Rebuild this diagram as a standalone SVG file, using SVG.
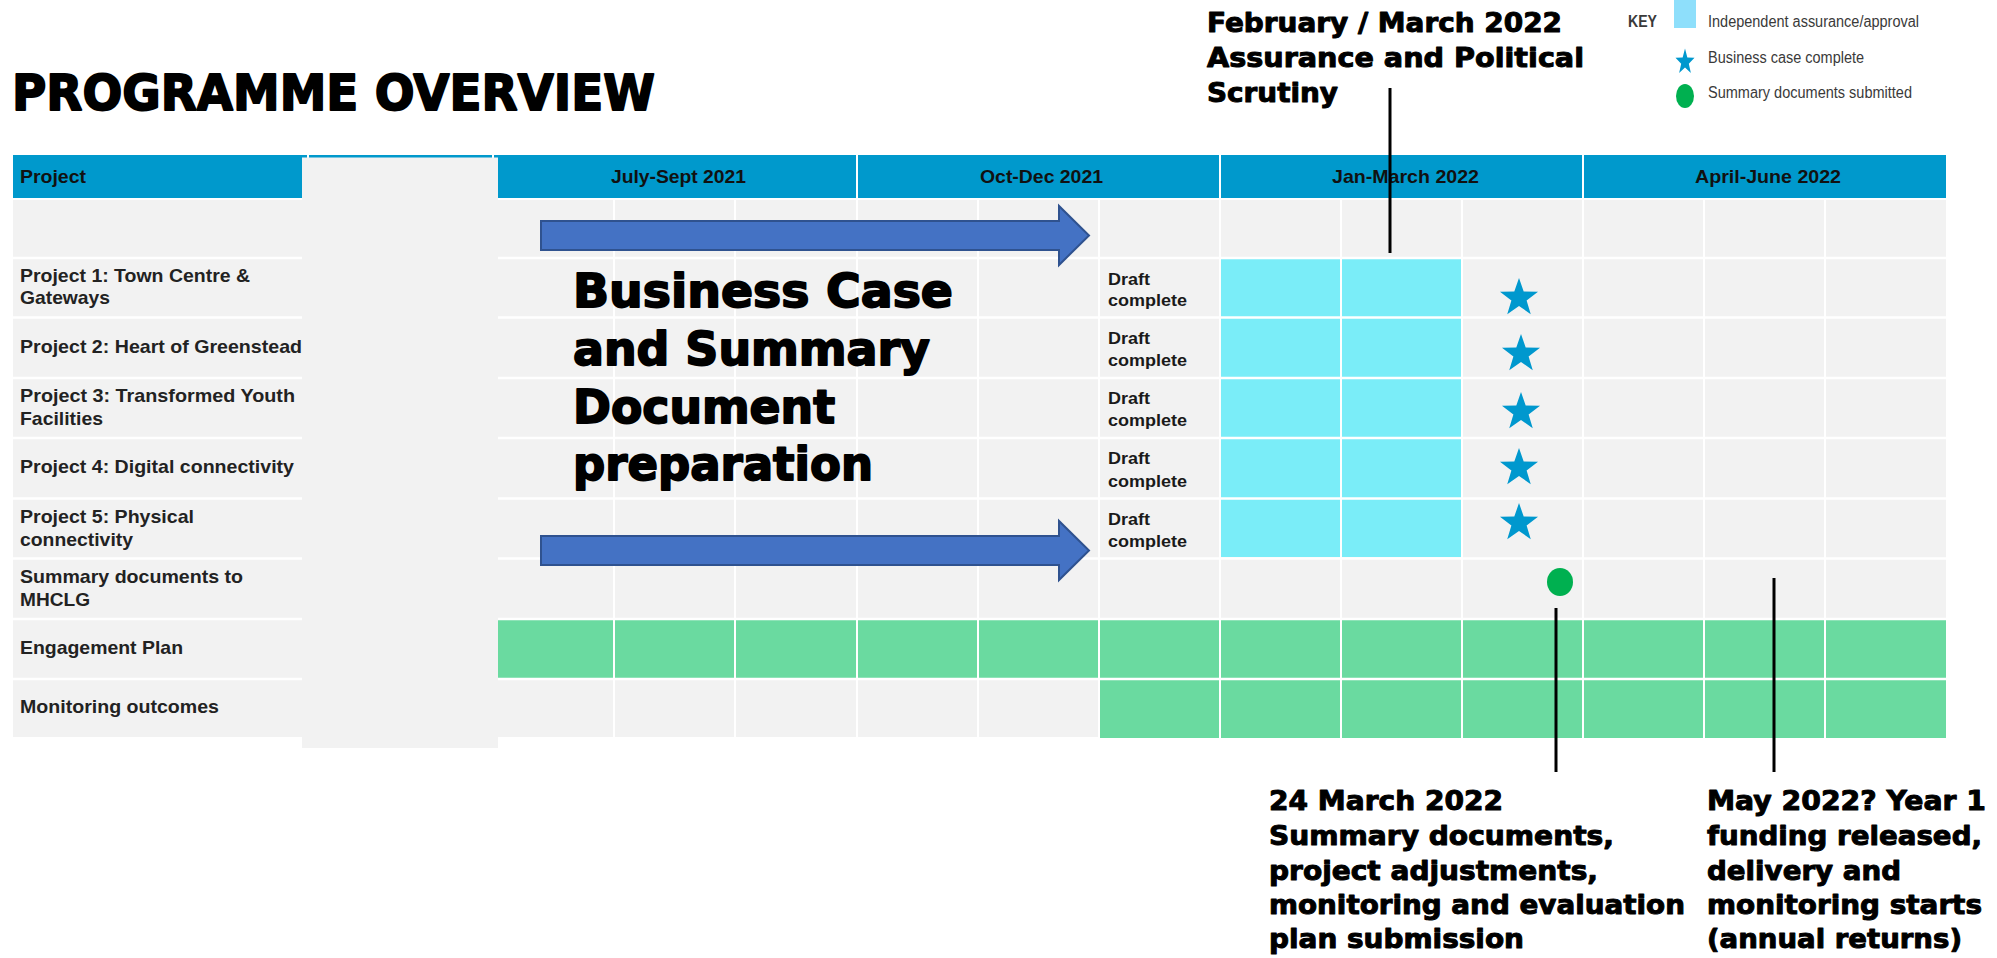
<svg xmlns="http://www.w3.org/2000/svg" width="1997" height="958" viewBox="0 0 1997 958">
<defs>
<style>
.hdr{font-family:"Liberation Sans",Arial,sans-serif;font-weight:bold;font-size:19px;fill:#111}
.lbl{font-family:"Liberation Sans",Arial,sans-serif;font-weight:bold;font-size:18.5px;fill:#222}
.drf{font-family:"Liberation Sans",Arial,sans-serif;font-weight:bold;font-size:17px;fill:#1a1a1a}
.hv{font-family:"DejaVu Sans","Liberation Sans",sans-serif;font-weight:bold;fill:#000;stroke:#000;stroke-width:1;stroke-linejoin:round}
.hv2{stroke-width:1.8}
.key{font-family:"Liberation Sans",Arial,sans-serif;font-size:16px;fill:#3a3a3a}
.grid{stroke:#fff;stroke-width:2;fill:none}
.hgrid{stroke:#fff;stroke-width:2.5;fill:none}
.cy{fill:#7AEDF8}
.gr{fill:#6ADAA0}
.star{fill:#0098CE}
.arr{fill:#4472C4;stroke:#2F528F;stroke-width:2}
.vl{stroke:#000;stroke-width:3}
</style>
<polygon id="starShape" points="0,-20 4.70,-6.47 19.02,-6.18 7.61,2.47 11.76,16.18 0,8 -11.76,16.18 -7.61,2.47 -19.02,-6.18 -4.70,-6.47"/>
</defs>
<rect width="1997" height="958" fill="#fff"/>

<g id="title">
<text class="hv hv2" x="12" y="110" font-size="49" textLength="643" lengthAdjust="spacingAndGlyphs">PROGRAMME OVERVIEW</text>
</g>

<g id="table">
<rect x="13" y="155" width="1933" height="43" fill="#0099CC"/>
<g class="grid">
<line x1="308" y1="155" x2="308" y2="198"/>
<line x1="493" y1="155" x2="493" y2="198"/>
<line x1="857" y1="155" x2="857" y2="198"/>
<line x1="1220" y1="155" x2="1220" y2="198"/>
<line x1="1583" y1="155" x2="1583" y2="198"/>
</g>
<rect x="13" y="200" width="1933" height="537" fill="#F2F2F2"/>
<rect class="cy" x="1220" y="259" width="242" height="58"/>
<rect class="cy" x="1220" y="318" width="242" height="60"/>
<rect class="cy" x="1220" y="378" width="242" height="60"/>
<rect class="cy" x="1220" y="438" width="242" height="61"/>
<rect class="cy" x="1220" y="499" width="242" height="58"/>
<rect class="gr" x="498" y="619" width="1448" height="60"/>
<rect class="gr" x="1099" y="679" width="847" height="59"/>
<g class="hgrid">
<line x1="13" y1="258" x2="1946" y2="258"/>
<line x1="13" y1="317.5" x2="1946" y2="317.5"/>
<line x1="13" y1="378" x2="1946" y2="378"/>
<line x1="13" y1="438" x2="1946" y2="438"/>
<line x1="13" y1="498.5" x2="1946" y2="498.5"/>
<line x1="13" y1="558.5" x2="1946" y2="558.5"/>
<line x1="13" y1="619" x2="1946" y2="619"/>
<line x1="13" y1="679" x2="1946" y2="679"/>
</g>
<g class="grid">
<line x1="614" y1="198" x2="614" y2="738"/>
<line x1="735" y1="198" x2="735" y2="738"/>
<line x1="857" y1="198" x2="857" y2="738"/>
<line x1="978" y1="198" x2="978" y2="738"/>
<line x1="1099" y1="198" x2="1099" y2="738"/>
<line x1="1220" y1="198" x2="1220" y2="738"/>
<line x1="1341" y1="198" x2="1341" y2="738"/>
<line x1="1462" y1="198" x2="1462" y2="738"/>
<line x1="1583" y1="198" x2="1583" y2="738"/>
<line x1="1704" y1="198" x2="1704" y2="738"/>
<line x1="1825" y1="198" x2="1825" y2="738"/>
</g>
<rect x="302" y="157.5" width="196" height="590.5" fill="#F2F2F2"/>
</g>

<g id="headers">
<text class="hdr" x="20" y="183" textLength="66" lengthAdjust="spacingAndGlyphs">Project</text>
<text class="hdr" x="611" y="183" textLength="135" lengthAdjust="spacingAndGlyphs">July-Sept 2021</text>
<text class="hdr" x="980" y="183" textLength="123" lengthAdjust="spacingAndGlyphs">Oct-Dec 2021</text>
<text class="hdr" x="1332" y="183" textLength="147" lengthAdjust="spacingAndGlyphs">Jan-March 2022</text>
<text class="hdr" x="1695" y="183" textLength="146" lengthAdjust="spacingAndGlyphs">April-June 2022</text>
</g>

<g id="row-labels">
<text class="lbl" x="20" y="282" textLength="230" lengthAdjust="spacingAndGlyphs">Project 1: Town Centre &amp;</text>
<text class="lbl" x="20" y="304" textLength="90" lengthAdjust="spacingAndGlyphs">Gateways</text>
<text class="lbl" x="20" y="353" textLength="282" lengthAdjust="spacingAndGlyphs">Project 2: Heart of Greenstead</text>
<text class="lbl" x="20" y="402" textLength="275" lengthAdjust="spacingAndGlyphs">Project 3: Transformed Youth</text>
<text class="lbl" x="20" y="425" textLength="83" lengthAdjust="spacingAndGlyphs">Facilities</text>
<text class="lbl" x="20" y="473" textLength="274" lengthAdjust="spacingAndGlyphs">Project 4: Digital connectivity</text>
<text class="lbl" x="20" y="523" textLength="174" lengthAdjust="spacingAndGlyphs">Project 5: Physical</text>
<text class="lbl" x="20" y="546" textLength="113" lengthAdjust="spacingAndGlyphs">connectivity</text>
<text class="lbl" x="20" y="583" textLength="223" lengthAdjust="spacingAndGlyphs">Summary documents to</text>
<text class="lbl" x="20" y="606" textLength="70" lengthAdjust="spacingAndGlyphs">MHCLG</text>
<text class="lbl" x="20" y="654" textLength="163" lengthAdjust="spacingAndGlyphs">Engagement Plan</text>
<text class="lbl" x="20" y="713" textLength="199" lengthAdjust="spacingAndGlyphs">Monitoring outcomes</text>
</g>

<g id="draft-labels">
<text class="drf" x="1108" y="285" textLength="42" lengthAdjust="spacingAndGlyphs">Draft</text>
<text class="drf" x="1108" y="306" textLength="79" lengthAdjust="spacingAndGlyphs">complete</text>
<text class="drf" x="1108" y="344" textLength="42" lengthAdjust="spacingAndGlyphs">Draft</text>
<text class="drf" x="1108" y="366" textLength="79" lengthAdjust="spacingAndGlyphs">complete</text>
<text class="drf" x="1108" y="404" textLength="42" lengthAdjust="spacingAndGlyphs">Draft</text>
<text class="drf" x="1108" y="426" textLength="79" lengthAdjust="spacingAndGlyphs">complete</text>
<text class="drf" x="1108" y="464" textLength="42" lengthAdjust="spacingAndGlyphs">Draft</text>
<text class="drf" x="1108" y="487" textLength="79" lengthAdjust="spacingAndGlyphs">complete</text>
<text class="drf" x="1108" y="525" textLength="42" lengthAdjust="spacingAndGlyphs">Draft</text>
<text class="drf" x="1108" y="547" textLength="79" lengthAdjust="spacingAndGlyphs">complete</text>
</g>

<g id="stars">
<use href="#starShape" class="star" x="1519" y="298"/>
<use href="#starShape" class="star" x="1521" y="354"/>
<use href="#starShape" class="star" x="1521" y="412"/>
<use href="#starShape" class="star" x="1519" y="468"/>
<use href="#starShape" class="star" x="1519" y="523"/>
</g>

<g id="submitted-dot">
<ellipse cx="1560" cy="582" rx="13" ry="14" fill="#00B050"/>
</g>

<g id="arrows">
<path class="arr" d="M541,221 L1059,221 L1059,206 L1089,235.5 L1059,265 L1059,250 L541,250 Z"/>
<path class="arr" d="M541,536 L1059,536 L1059,521 L1089,550.5 L1059,580 L1059,565 L541,565 Z"/>
</g>

<g id="business-case-label">
<text class="hv hv2" x="573" y="307" font-size="46" textLength="380" lengthAdjust="spacingAndGlyphs">Business Case</text>
<text class="hv hv2" x="573" y="365" font-size="46" textLength="357" lengthAdjust="spacingAndGlyphs">and Summary</text>
<text class="hv hv2" x="573" y="423" font-size="46" textLength="262" lengthAdjust="spacingAndGlyphs">Document</text>
<text class="hv hv2" x="573" y="480" font-size="46" textLength="300" lengthAdjust="spacingAndGlyphs">preparation</text>
</g>

<g id="connectors">
<line class="vl" x1="1390" y1="88" x2="1390" y2="253"/>
<line class="vl" x1="1556" y1="608" x2="1556" y2="772"/>
<line class="vl" x1="1774" y1="578" x2="1774" y2="772"/>
</g>

<g id="annotation-feb">
<text class="hv" x="1207" y="32" font-size="27" textLength="355" lengthAdjust="spacingAndGlyphs">February / March 2022</text>
<text class="hv" x="1207" y="67" font-size="27" textLength="377" lengthAdjust="spacingAndGlyphs">Assurance and Political</text>
<text class="hv" x="1207" y="102" font-size="27" textLength="131" lengthAdjust="spacingAndGlyphs">Scrutiny</text>
</g>

<g id="annotation-march">
<text class="hv" x="1269" y="810" font-size="27" textLength="234" lengthAdjust="spacingAndGlyphs">24 March 2022</text>
<text class="hv" x="1269" y="845" font-size="27" textLength="345" lengthAdjust="spacingAndGlyphs">Summary documents,</text>
<text class="hv" x="1269" y="880" font-size="27" textLength="329" lengthAdjust="spacingAndGlyphs">project adjustments,</text>
<text class="hv" x="1269" y="914" font-size="27" textLength="416" lengthAdjust="spacingAndGlyphs">monitoring and evaluation</text>
<text class="hv" x="1269" y="948" font-size="27" textLength="255" lengthAdjust="spacingAndGlyphs">plan submission</text>
</g>

<g id="annotation-may">
<text class="hv" x="1707" y="810" font-size="27" textLength="279" lengthAdjust="spacingAndGlyphs">May 2022? Year 1</text>
<text class="hv" x="1707" y="845" font-size="27" textLength="275" lengthAdjust="spacingAndGlyphs">funding released,</text>
<text class="hv" x="1707" y="880" font-size="27" textLength="194" lengthAdjust="spacingAndGlyphs">delivery and</text>
<text class="hv" x="1707" y="914" font-size="27" textLength="275" lengthAdjust="spacingAndGlyphs">monitoring starts</text>
<text class="hv" x="1707" y="948" font-size="27" textLength="255" lengthAdjust="spacingAndGlyphs">(annual returns)</text>
</g>

<g id="legend">
<text class="key" x="1628" y="27" font-weight="bold" fill="#222" textLength="29" lengthAdjust="spacingAndGlyphs">KEY</text>
<rect x="1674" y="0" width="22" height="28" fill="#8EDFFB"/>
<text class="key" x="1708" y="27" textLength="211" lengthAdjust="spacingAndGlyphs">Independent assurance/approval</text>
<use href="#starShape" class="star" transform="translate(1685,62) scale(0.5,0.68)"/>
<text class="key" x="1708" y="63" textLength="156" lengthAdjust="spacingAndGlyphs">Business case complete</text>
<ellipse cx="1685" cy="96" rx="9" ry="12" fill="#00B050"/>
<text class="key" x="1708" y="98" textLength="204" lengthAdjust="spacingAndGlyphs">Summary documents submitted</text>
</g>
</svg>
